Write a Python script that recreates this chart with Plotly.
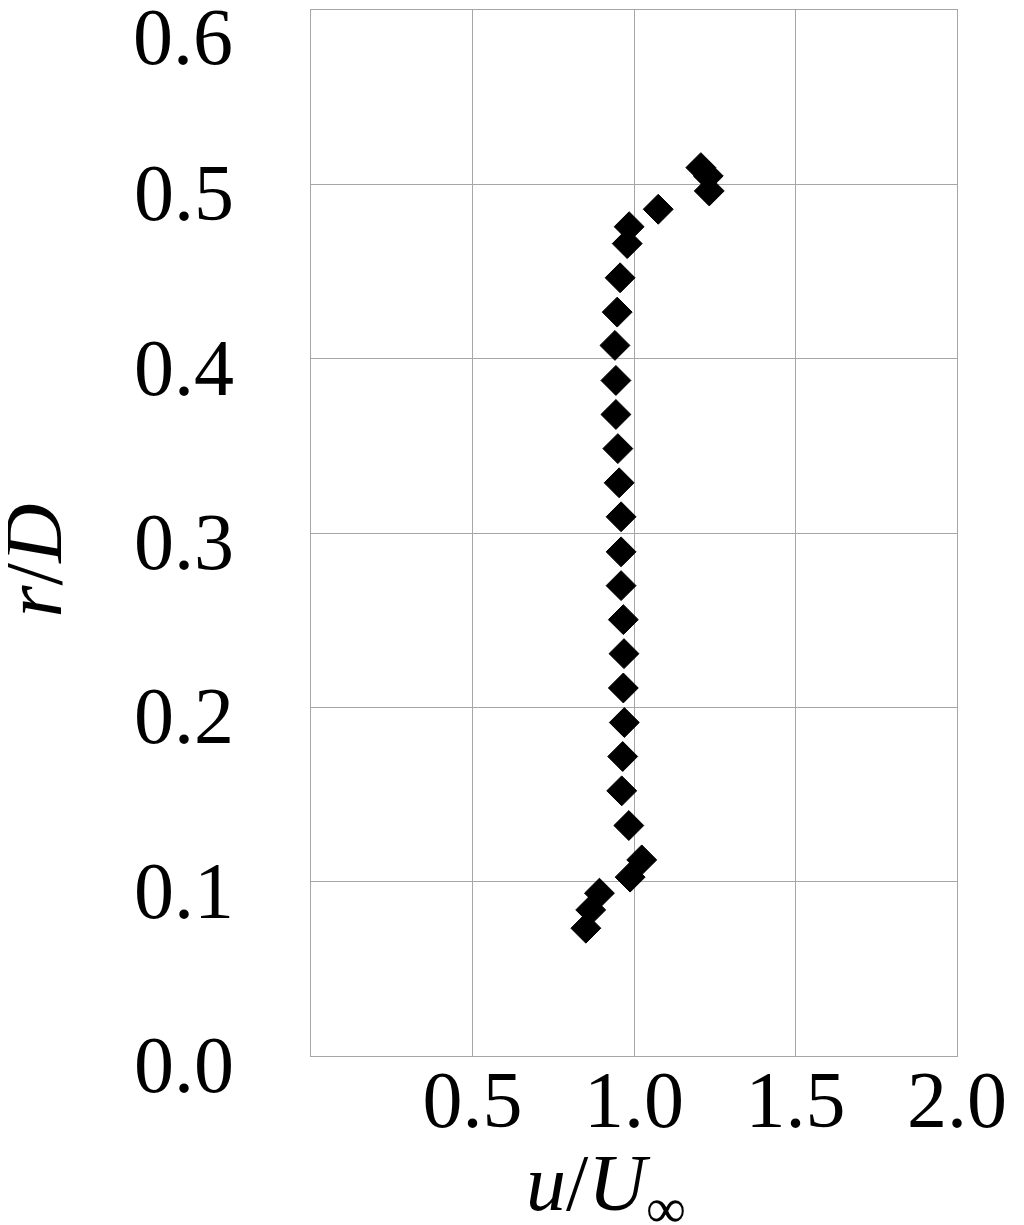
import plotly.graph_objects as go

# u/U_inf (x) and r/D (y), bottom to top
u_ratio = [0.851, 0.866, 0.893, 0.988, 1.024, 0.984, 0.962, 0.965, 0.970, 0.967,
           0.969, 0.967, 0.960, 0.960, 0.960, 0.954, 0.950, 0.944, 0.944, 0.941,
           0.948, 0.957, 0.979, 0.985, 1.075, 1.233, 1.230, 1.207]
r_over_d = [0.0733, 0.0838, 0.0934, 0.1026, 0.1125, 0.1322, 0.1521, 0.1718, 0.1913, 0.2111,
            0.2308, 0.2503, 0.2698, 0.2892, 0.3093, 0.3288, 0.3484, 0.3680, 0.3875, 0.4076,
            0.4267, 0.4464, 0.4660, 0.4757, 0.4857, 0.4962, 0.5048, 0.5096]

x_ticks = [0.5, 1.0, 1.5, 2.0]
x_tick_labels = ["0.5", "1.0", "1.5", "2.0"]
y_ticks = [0.0, 0.1, 0.2, 0.3, 0.4, 0.5, 0.6]
y_tick_labels = ["0.0", "0.1", "0.2", "0.3", "0.4", "0.5", "0.6"]

FONT = "Liberation Serif, Times New Roman, serif"
GRID = "#a6a6a6"

# the top tick label sits lower than its gridline in the reference,
# so it is drawn as an annotation tied to the y scale
axis_tick_text = y_tick_labels[:-1] + [""]

fig = go.Figure()
fig.add_trace(go.Scatter(
    x=u_ratio, y=r_over_d, mode="markers",
    marker=dict(symbol="diamond", size=23, color="black",
                line=dict(color="black", width=1)),
    showlegend=False,
))

fig.update_layout(
    width=1024, height=1225,
    margin=dict(l=303, r=75, t=2, b=177, autoexpand=False),
    paper_bgcolor="white", plot_bgcolor="white",
    font=dict(family=FONT, color="black", size=80),
    annotations=[
        dict(text="<i>u</i>/<i>U</i><sub>∞</sub>", xref="paper", yref="paper",
             x=0.456, y=-0.127, xanchor="center", yanchor="middle",
             showarrow=False, font=dict(family=FONT, size=80, color="black")),
        dict(text="<i>r</i>/<i>D</i>", xref="paper", yref="paper",
             x=-0.430, y=0.474, xanchor="center", yanchor="middle",
             textangle=-90, showarrow=False,
             font=dict(family=FONT, size=82, color="black")),
        dict(text=y_tick_labels[-1], xref="paper", yref="y",
             x=-0.1176, y=y_ticks[-1], xanchor="right", yanchor="middle",
             yshift=-27, showarrow=False,
             font=dict(family=FONT, size=80, color="black")),
    ],
)
fig.update_xaxes(
    range=[0, 2.0], tickvals=x_ticks, ticktext=x_tick_labels,
    showgrid=True, gridcolor=GRID, gridwidth=1,
    showline=True, linecolor=GRID, linewidth=1, mirror=True,
    zeroline=False, ticks="", ticklabelstandoff=-26,
    ticklabeloverflow="allow",
    tickfont=dict(family=FONT, size=80, color="black"),
)
fig.update_yaxes(
    range=[0, 0.6], tickvals=y_ticks, ticktext=axis_tick_text,
    showgrid=True, gridcolor=GRID, gridwidth=1,
    showline=True, linecolor=GRID, linewidth=1, mirror=True,
    zeroline=False, ticks="", ticklabelstandoff=60, ticklabelshift=8,
    ticklabeloverflow="allow",
    tickfont=dict(family=FONT, size=80, color="black"),
)

fig.write_html("out.html")
